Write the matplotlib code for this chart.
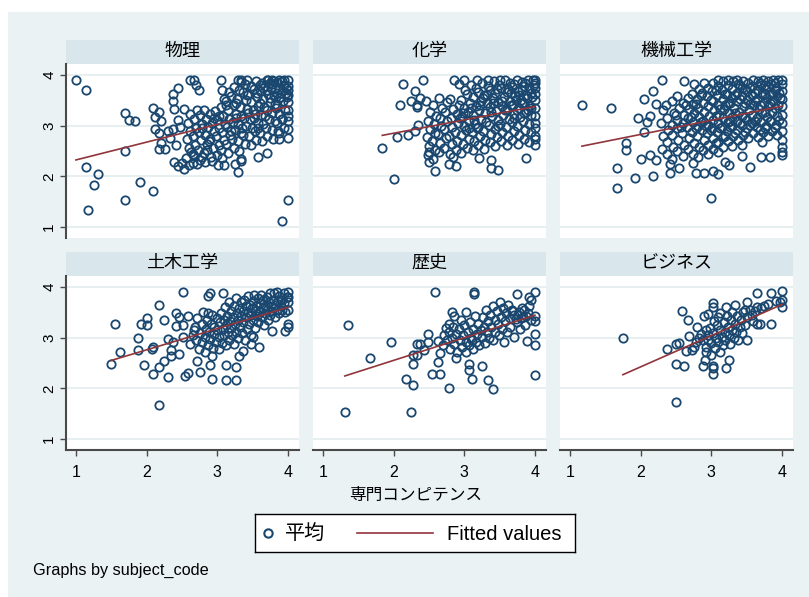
'''
    Scatter of grade average against competence, one panel per subject,
    with a linear fit in each panel
'''

import numpy as np
import matplotlib.pyplot as plt
from matplotlib.patches import Rectangle

plt.rcParams['font.family'] = ['Liberation Sans', 'Noto Sans CJK JP']

subjects = ['物理', '化学', '機械工学', '土木工学', '歴史', 'ビジネス']

# (competence, average) per student
buturi = [
    (1.00, 3.90), (1.14, 3.71), (1.14, 2.19), (1.17, 1.34), (1.26, 1.84), (1.31, 2.04),
    (1.70, 3.25), (1.70, 2.50), (1.70, 1.53), (1.75, 3.12), (1.83, 3.10), (1.91, 1.88),
    (2.09, 1.71), (2.09, 3.34), (2.12, 3.18), (2.21, 3.10), (2.18, 3.28), (2.12, 2.93),
    (2.17, 2.85), (2.18, 2.54), (2.21, 2.65), (2.26, 2.54), (2.37, 3.63), (2.37, 3.48),
    (2.44, 3.75), (2.39, 3.33), (2.37, 2.93), (2.39, 2.28), (2.44, 2.20), (2.53, 2.14),
    (2.53, 3.33), (2.50, 2.27), (2.61, 3.90), (2.67, 3.90), (2.70, 3.80), (2.74, 3.71),
    (2.66, 2.27), (2.67, 2.40), (3.01, 2.22), (3.09, 2.22), (3.05, 3.90), (3.29, 2.08),
    (3.25, 2.24), (3.33, 2.30), (3.34, 2.35), (3.57, 2.38), (3.70, 2.46), (3.29, 3.90),
    (3.33, 3.90), (3.42, 3.90), (3.72, 3.90), (3.78, 3.90), (3.88, 3.90), (3.95, 3.90),
    (4.00, 3.90), (3.92, 1.12), (4.00, 1.53), (3.87, 2.73), (3.87, 2.85), (4.00, 2.93),
    (4.00, 3.10), (4.00, 3.31), (4.00, 3.47), (4.00, 3.78), (3.92, 3.14), (2.30, 2.89),
    (2.33, 2.75), (2.42, 2.62), (2.45, 3.12), (2.47, 2.98),
    (2.56, 2.36), (2.60, 2.57), (2.57, 2.74), (2.61, 2.90), (2.58, 3.06), (2.62, 3.24),
    (2.66, 2.44), (2.69, 2.61), (2.65, 2.79), (2.70, 2.96), (2.67, 3.13), (2.71, 3.31),
    (2.75, 2.33), (2.73, 2.53), (2.77, 2.71), (2.74, 2.87), (2.78, 3.03), (2.76, 3.21),
    (2.83, 2.29), (2.81, 2.47), (2.86, 2.63), (2.82, 2.81), (2.87, 2.97), (2.84, 3.13),
    (2.81, 3.31), (2.91, 2.39), (2.94, 2.56), (2.90, 2.73), (2.95, 2.89), (2.92, 3.06),
    (2.89, 3.23), (2.99, 2.43), (3.02, 2.61), (2.98, 2.79), (3.03, 2.95), (3.00, 3.11),
    (2.97, 3.29), (3.07, 2.36), (3.05, 2.53), (3.10, 2.71), (3.06, 2.87), (3.11, 3.03),
    (3.08, 3.19), (3.05, 3.36), (3.09, 3.53), (3.07, 3.71), (3.15, 2.46), (3.13, 2.63),
    (3.18, 2.81), (3.14, 2.97), (3.17, 3.13), (3.15, 3.31), (3.13, 3.49), (3.16, 3.66),
    (3.23, 2.56), (3.21, 2.73), (3.25, 2.91), (3.22, 3.07), (3.26, 3.23), (3.24, 3.41),
    (3.20, 3.59), (3.23, 3.77), (3.31, 2.51), (3.29, 2.69), (3.33, 2.86), (3.30, 3.03),
    (3.34, 3.19), (3.32, 3.36), (3.28, 3.53), (3.31, 3.71), (3.33, 3.86), (3.39, 2.63),
    (3.37, 2.81), (3.41, 2.99), (3.38, 3.16), (3.42, 3.33), (3.40, 3.51), (3.36, 3.67),
    (3.39, 3.83), (3.47, 2.61), (3.45, 2.79), (3.49, 2.96), (3.46, 3.13), (3.50, 3.31),
    (3.48, 3.47), (3.44, 3.63), (3.47, 3.79), (3.55, 2.71), (3.53, 2.89), (3.57, 3.06),
    (3.54, 3.23), (3.58, 3.39), (3.56, 3.56), (3.52, 3.73), (3.55, 3.88), (3.63, 2.69),
    (3.61, 2.86), (3.65, 3.03), (3.62, 3.21), (3.66, 3.37), (3.64, 3.53), (3.60, 3.69),
    (3.63, 3.85), (3.71, 2.79), (3.69, 2.96), (3.73, 3.13), (3.70, 3.31), (3.74, 3.47),
    (3.72, 3.63), (3.68, 3.79), (3.71, 3.90), (3.79, 2.73), (3.77, 2.91), (3.81, 3.09),
    (3.78, 3.26), (3.82, 3.43), (3.80, 3.59), (3.76, 3.75), (3.79, 3.88), (3.86, 2.89),
    (3.84, 3.06), (3.88, 3.23), (3.85, 3.41), (3.89, 3.57), (3.87, 3.73), (3.85, 3.86),
    (3.94, 2.96), (3.92, 3.13), (3.96, 3.31), (3.93, 3.49), (3.97, 3.65), (3.95, 3.81),
    (4.00, 3.20), (4.00, 3.60), (4.00, 3.70), (4.00, 2.75),
    (2.79, 2.95), (2.95, 3.15), (3.12, 3.40), (3.27, 3.45), (3.44, 3.25), (3.60, 3.45),
    (3.75, 3.55), (3.90, 3.65), (3.35, 2.95), (3.19, 2.90), (3.52, 3.15), (3.67, 3.20),
    (3.02, 3.20), (2.88, 2.70), (3.83, 3.35), (3.58, 2.95), (3.42, 3.60), (3.26, 3.15),
    (2.60, 2.22), (2.72, 2.25), (2.63, 2.48), (2.79, 2.38), (2.93, 2.31), (2.86, 2.52),
    (3.65, 3.75), (3.78, 3.82), (3.92, 3.88), (3.84, 3.65), (3.70, 3.70), (3.97, 3.75),
    (3.60, 3.80), (3.88, 3.55), (3.74, 3.85), (3.56, 3.65), (3.82, 3.72), (3.98, 3.56),
]

kagaku = [
    (1.84, 2.57), (2.00, 1.94), (2.05, 2.78), (2.13, 3.82), (2.09, 3.41), (2.21, 2.82),
    (2.30, 3.69), (2.25, 3.49), (2.33, 3.41), (2.33, 3.37), (2.42, 3.90), (2.30, 2.89),
    (2.34, 3.01), (2.38, 3.54), (2.50, 2.28), (2.58, 2.10), (2.50, 2.48), (2.79, 2.25),
    (2.88, 2.20), (2.84, 2.38), (3.21, 2.36), (3.38, 2.32), (3.38, 2.17), (3.47, 2.12),
    (3.88, 2.36), (4.00, 2.61), (4.00, 2.73),
    (2.48, 2.42), (2.50, 2.60), (2.47, 2.78), (2.52, 2.94), (2.49, 3.10), (2.51, 3.28),
    (2.46, 3.48), (2.56, 2.35), (2.58, 2.53), (2.55, 2.70), (2.59, 2.86), (2.57, 3.03),
    (2.60, 3.20), (2.56, 3.40), (2.64, 2.48), (2.66, 2.66), (2.63, 2.83), (2.67, 2.99),
    (2.65, 3.16), (2.68, 3.35), (2.64, 3.54), (2.72, 2.56), (2.74, 2.76), (2.71, 2.93),
    (2.75, 3.10), (2.73, 3.28), (2.76, 3.46), (2.80, 2.45), (2.82, 2.63), (2.79, 2.80),
    (2.83, 2.98), (2.81, 3.16), (2.84, 3.33), (2.80, 3.53), (2.85, 3.90), (2.88, 2.53),
    (2.90, 2.70), (2.87, 2.88), (2.91, 3.06), (2.89, 3.23), (2.92, 3.40), (2.93, 3.82),
    (2.96, 2.47), (2.98, 2.64), (2.95, 2.81), (2.99, 2.99), (2.97, 3.17), (3.00, 3.34),
    (2.96, 3.51), (3.01, 3.70), (3.00, 3.90), (3.04, 2.57), (3.06, 2.74), (3.03, 2.91),
    (3.07, 3.09), (3.05, 3.27), (3.08, 3.44), (3.04, 3.62), (3.09, 3.80), (3.12, 2.52),
    (3.14, 2.69), (3.11, 2.87), (3.15, 3.04), (3.13, 3.21), (3.16, 3.39), (3.12, 3.57),
    (3.17, 3.75), (3.18, 3.90), (3.20, 2.62), (3.22, 2.79), (3.19, 2.97), (3.23, 3.14),
    (3.21, 3.31), (3.24, 3.49), (3.20, 3.67), (3.25, 3.85), (3.28, 2.55), (3.30, 2.72),
    (3.27, 2.90), (3.31, 3.07), (3.29, 3.25), (3.32, 3.44), (3.28, 3.61), (3.33, 3.79),
    (3.34, 3.90), (3.36, 2.67), (3.38, 2.84), (3.35, 3.01), (3.39, 3.19), (3.37, 3.37),
    (3.40, 3.54), (3.36, 3.71), (3.42, 3.88), (3.44, 2.60), (3.46, 2.77), (3.43, 2.94),
    (3.47, 3.11), (3.45, 3.29), (3.48, 3.47), (3.44, 3.64), (3.49, 3.81), (3.50, 3.90),
    (3.52, 2.69), (3.54, 2.87), (3.51, 3.04), (3.55, 3.21), (3.53, 3.39), (3.56, 3.57),
    (3.52, 3.74), (3.58, 3.90), (3.60, 2.62), (3.62, 2.79), (3.59, 2.97), (3.63, 3.14),
    (3.61, 3.31), (3.64, 3.49), (3.60, 3.67), (3.65, 3.84), (3.68, 2.71), (3.70, 2.89),
    (3.67, 3.07), (3.71, 3.24), (3.69, 3.41), (3.72, 3.59), (3.68, 3.77), (3.74, 3.90),
    (3.76, 2.64), (3.78, 2.81), (3.75, 2.99), (3.79, 3.17), (3.77, 3.34), (3.80, 3.51),
    (3.76, 3.69), (3.81, 3.87), (3.84, 2.74), (3.86, 2.91), (3.83, 3.09), (3.87, 3.27),
    (3.85, 3.44), (3.88, 3.61), (3.84, 3.79), (3.90, 3.90), (3.92, 2.67), (3.94, 2.87),
    (3.91, 3.04), (3.95, 3.21), (3.93, 3.39), (3.96, 3.57), (3.92, 3.74), (3.97, 3.90),
    (4.00, 2.80), (4.00, 2.95), (4.00, 3.05), (4.00, 3.20), (4.00, 3.35), (4.00, 3.50),
    (4.00, 3.62), (4.00, 3.75), (4.00, 3.85), (4.00, 3.90),
    (3.58, 3.30), (3.73, 3.50), (3.89, 3.55), (3.82, 3.70), (3.66, 3.65), (3.26, 3.55),
    (3.10, 3.35), (3.41, 3.45), (2.94, 3.15), (3.18, 2.95), (3.48, 3.00), (3.70, 3.15),
    (3.95, 3.35), (3.85, 3.25), (3.62, 3.72), (3.70, 3.82), (3.78, 3.60), (3.86, 3.85),
    (3.94, 3.65), (3.98, 3.80), (3.66, 3.40), (3.74, 3.30), (3.82, 3.45), (3.90, 3.30),
    (3.54, 3.48), (3.46, 3.72), (3.32, 3.60), (3.14, 3.12), (3.22, 3.40), (3.38, 3.28),
    (3.06, 2.95), (2.98, 3.25),
]

kikai = [
    (1.17, 3.41), (1.58, 3.34), (1.67, 2.16), (1.67, 1.78), (1.79, 2.66), (1.79, 2.53),
    (1.92, 1.96), (2.00, 2.35), (1.96, 3.15), (2.05, 3.53), (2.05, 2.88), (2.09, 3.07),
    (2.13, 3.20), (2.17, 2.01), (2.17, 3.69), (2.22, 3.43), (2.22, 2.32), (2.13, 2.42),
    (2.30, 3.90), (2.42, 2.07), (2.42, 2.24), (2.55, 2.16), (2.74, 2.26), (2.78, 2.07),
    (2.89, 2.07), (3.00, 1.57), (3.03, 2.10), (3.09, 2.04), (3.20, 2.28), (3.25, 2.22),
    (3.55, 2.19), (3.43, 2.40), (3.71, 2.38), (3.83, 2.38), (4.00, 2.42),
    (2.30, 2.55), (2.31, 2.80), (2.29, 3.05), (2.32, 3.30), (2.38, 2.45), (2.37, 2.68),
    (2.39, 2.92), (2.38, 3.15), (2.36, 3.40), (2.45, 2.35), (2.46, 2.58), (2.44, 2.82),
    (2.45, 3.02), (2.47, 3.25), (2.45, 3.48), (2.52, 2.50), (2.53, 2.72), (2.51, 2.95),
    (2.52, 3.12), (2.54, 3.35), (2.52, 3.58), (2.60, 2.40), (2.61, 2.62), (2.59, 2.85),
    (2.60, 3.05), (2.62, 3.22), (2.60, 3.45), (2.61, 3.88), (2.67, 2.55), (2.68, 2.75),
    (2.66, 2.98), (2.67, 3.15), (2.69, 3.32), (2.67, 3.55), (2.74, 2.45), (2.75, 2.65),
    (2.73, 2.88), (2.74, 3.08), (2.76, 3.25), (2.74, 3.42), (2.73, 3.62), (2.75, 3.82),
    (2.81, 2.38), (2.82, 2.58), (2.80, 2.80), (2.81, 3.00), (2.83, 3.18), (2.81, 3.35),
    (2.80, 3.52), (2.82, 3.72), (2.88, 2.52), (2.89, 2.72), (2.87, 2.92), (2.88, 3.10),
    (2.90, 3.28), (2.88, 3.45), (2.87, 3.65), (2.89, 3.85), (2.95, 2.45), (2.96, 2.62),
    (2.94, 2.85), (2.95, 3.02), (2.97, 3.20), (2.95, 3.38), (2.94, 3.58), (2.96, 3.75),
    (3.02, 2.55), (3.03, 2.75), (3.01, 2.95), (3.02, 3.12), (3.04, 3.30), (3.02, 3.48),
    (3.01, 3.68), (3.03, 3.85), (3.09, 2.48), (3.10, 2.68), (3.08, 2.88), (3.09, 3.05),
    (3.11, 3.22), (3.09, 3.40), (3.08, 3.60), (3.10, 3.78), (3.09, 3.90), (3.16, 2.58),
    (3.17, 2.78), (3.15, 2.98), (3.16, 3.15), (3.18, 3.32), (3.16, 3.52), (3.15, 3.70),
    (3.17, 3.88), (3.23, 2.70), (3.22, 2.90), (3.23, 3.08), (3.25, 3.25), (3.23, 3.45),
    (3.22, 3.62), (3.24, 3.80), (3.23, 3.90), (3.30, 2.60), (3.31, 2.80), (3.29, 3.00),
    (3.30, 3.18), (3.32, 3.35), (3.30, 3.55), (3.29, 3.72), (3.31, 3.88), (3.38, 2.72),
    (3.36, 2.92), (3.37, 3.10), (3.39, 3.28), (3.37, 3.48), (3.36, 3.65), (3.38, 3.82),
    (3.37, 3.90), (3.44, 2.62), (3.45, 2.82), (3.43, 3.02), (3.44, 3.20), (3.46, 3.38),
    (3.44, 3.58), (3.43, 3.75), (3.45, 3.88), (3.52, 2.75), (3.50, 2.95), (3.51, 3.12),
    (3.53, 3.30), (3.51, 3.50), (3.50, 3.68), (3.52, 3.85), (3.59, 2.85), (3.57, 3.05),
    (3.58, 3.22), (3.60, 3.40), (3.58, 3.60), (3.57, 3.78), (3.59, 3.90), (3.66, 2.78),
    (3.64, 2.98), (3.65, 3.15), (3.67, 3.32), (3.65, 3.52), (3.64, 3.70), (3.66, 3.88),
    (3.72, 2.68), (3.73, 2.88), (3.71, 3.08), (3.72, 3.25), (3.74, 3.45), (3.72, 3.62),
    (3.71, 3.80), (3.73, 3.90), (3.80, 2.80), (3.78, 3.00), (3.79, 3.18), (3.81, 3.38),
    (3.79, 3.55), (3.78, 3.72), (3.80, 3.88), (3.86, 2.90), (3.85, 3.10), (3.86, 3.28),
    (3.88, 3.48), (3.86, 3.65), (3.85, 3.82), (3.87, 3.90), (3.93, 2.82), (3.92, 3.02),
    (3.93, 3.20), (3.95, 3.40), (3.93, 3.58), (3.92, 3.75), (3.94, 3.90), (4.00, 2.48),
    (4.00, 2.58), (4.00, 2.72), (4.00, 2.90), (4.00, 3.05), (4.00, 3.22), (4.00, 3.38),
    (4.00, 3.52), (4.00, 3.68), (4.00, 3.82), (4.00, 3.90),
    (3.62, 3.48), (3.76, 3.62), (3.90, 3.70), (3.48, 3.45), (3.34, 3.60), (3.20, 3.40),
    (3.06, 3.20), (2.92, 3.00), (3.55, 3.75), (3.83, 3.45), (3.69, 3.85), (3.41, 3.80),
    (3.97, 3.55), (3.27, 3.10), (2.78, 2.95),
    (2.71, 3.18), (2.78, 3.42), (2.85, 3.08), (2.85, 3.60), (2.99, 2.92), (2.99, 3.50),
    (3.06, 2.65), (3.06, 3.70), (3.13, 3.32), (3.13, 2.95), (3.20, 3.62), (3.20, 2.80),
    (3.27, 3.45), (3.27, 2.98), (3.34, 3.25), (3.34, 2.85), (3.41, 3.52), (3.41, 3.05),
    (3.48, 3.72), (3.48, 3.18), (3.48, 2.88), (3.55, 3.42), (3.55, 3.02), (3.62, 3.65),
    (3.62, 3.10), (3.69, 3.40), (3.69, 2.92), (3.76, 3.80), (3.76, 3.28), (3.76, 2.95),
    (3.83, 3.62), (3.83, 3.10), (3.90, 3.85), (3.90, 3.35), (3.90, 2.95), (3.96, 3.65),
    (3.96, 3.12), (2.64, 3.40), (2.57, 2.98), (2.50, 3.22),
]

doboku = [
    (1.50, 2.49), (1.55, 3.28), (1.63, 2.72), (1.88, 2.99), (1.88, 2.76), (1.92, 3.28),
    (1.96, 2.47), (2.00, 3.39), (2.00, 3.25), (2.09, 2.82), (2.09, 2.28), (2.07, 2.78),
    (2.17, 3.64), (2.17, 2.43), (2.17, 1.68), (2.25, 3.34), (2.25, 2.55), (2.30, 2.98),
    (2.30, 2.22), (2.34, 2.76), (2.34, 2.63), (2.38, 2.92), (2.42, 3.23), (2.42, 3.49),
    (2.46, 3.40), (2.46, 2.67), (2.51, 3.02), (2.51, 3.91), (2.51, 3.26), (2.55, 2.25),
    (2.59, 2.30), (2.59, 3.43), (2.67, 3.15), (2.71, 2.55), (2.75, 2.33), (2.87, 3.82),
    (2.89, 3.89), (2.87, 3.49), (2.89, 2.47), (2.92, 2.18), (2.92, 2.64), (3.08, 3.89),
    (3.13, 2.17), (3.26, 2.17), (3.13, 2.47), (3.26, 2.43), (3.31, 2.64), (3.36, 2.74),
    (3.59, 2.81), (3.47, 2.87), (3.51, 3.01), (3.96, 3.13), (4.00, 3.21), (4.00, 3.28),
    (3.77, 3.14),
    (2.62, 2.88), (2.65, 3.05), (2.68, 3.22), (2.70, 2.95), (2.72, 3.38), (2.74, 2.78),
    (2.76, 3.10), (2.78, 3.28), (2.79, 2.92), (2.80, 3.50), (2.82, 2.72), (2.83, 3.02),
    (2.84, 3.18), (2.86, 3.35), (2.87, 2.85), (2.88, 3.12), (2.90, 2.98), (2.91, 3.28),
    (2.92, 3.45), (2.94, 2.80), (2.95, 3.08), (2.96, 3.22), (2.98, 2.92), (2.99, 3.38),
    (3.00, 3.15), (3.02, 2.78), (3.03, 3.02), (3.04, 3.30), (3.05, 3.48), (3.06, 2.90),
    (3.08, 3.18), (3.09, 3.35), (3.10, 3.05), (3.11, 3.60), (3.12, 2.85), (3.13, 3.25),
    (3.14, 3.42), (3.15, 3.12), (3.16, 3.70), (3.17, 2.95), (3.18, 3.32), (3.19, 3.52),
    (3.20, 3.20), (3.21, 3.05), (3.22, 3.40), (3.23, 3.62), (3.24, 2.88), (3.25, 3.28),
    (3.26, 3.78), (3.27, 3.12), (3.28, 3.48), (3.29, 3.35), (3.30, 3.00), (3.31, 3.58),
    (3.32, 3.22), (3.33, 3.70), (3.34, 3.42), (3.35, 3.10), (3.36, 3.52), (3.37, 3.30),
    (3.38, 3.75), (3.39, 2.95), (3.40, 3.62), (3.41, 3.40), (3.42, 3.18), (3.43, 3.50),
    (3.44, 3.82), (3.45, 3.28), (3.46, 3.65), (3.47, 3.05), (3.48, 3.45), (3.49, 3.58),
    (3.50, 3.72), (3.51, 3.35), (3.52, 3.85), (3.53, 3.20), (3.54, 3.52), (3.55, 3.62),
    (3.56, 3.42), (3.57, 3.78), (3.58, 3.30), (3.60, 3.68), (3.61, 3.50), (3.62, 3.85),
    (3.63, 3.40), (3.64, 3.58), (3.65, 3.75), (3.66, 3.25), (3.67, 3.62), (3.68, 3.48),
    (3.70, 3.80), (3.71, 3.55), (3.72, 3.35), (3.73, 3.70), (3.74, 3.88), (3.75, 3.45),
    (3.76, 3.62), (3.78, 3.52), (3.79, 3.75), (3.80, 3.88), (3.81, 3.40), (3.82, 3.65),
    (3.84, 3.55), (3.85, 3.90), (3.86, 3.72), (3.87, 3.48), (3.88, 3.82), (3.90, 3.62),
    (3.91, 3.55), (3.92, 3.75), (3.94, 3.88), (3.95, 3.68), (3.96, 3.50), (3.98, 3.80),
    (4.00, 3.55), (4.00, 3.70), (4.00, 3.80), (4.00, 3.90),
]

rekisi = [
    (1.31, 1.53), (1.36, 3.25), (1.67, 2.60), (1.97, 2.91), (2.18, 2.19), (2.28, 2.06),
    (2.24, 1.53), (2.28, 2.49), (2.28, 2.65), (2.33, 2.88), (2.37, 2.88), (2.33, 2.65),
    (2.43, 2.76), (2.49, 3.07), (2.49, 2.91), (2.55, 2.29), (2.58, 3.91), (2.63, 2.52),
    (2.63, 2.94), (2.65, 2.29), (2.65, 2.69), (2.79, 2.00), (2.79, 3.27), (2.82, 3.50),
    (2.88, 2.60), (2.86, 3.43), (3.03, 3.50), (3.07, 2.49), (3.07, 2.37), (3.11, 2.19),
    (3.11, 2.95), (3.14, 3.87), (3.14, 3.90), (3.25, 2.44), (3.33, 2.16), (3.40, 1.99),
    (3.74, 3.87), (4.00, 3.91), (4.00, 2.26), (4.00, 2.86), (4.00, 3.07), (4.00, 3.43),
    (4.00, 3.32), (3.89, 2.93), (3.91, 3.80),
    (2.70, 2.85), (2.72, 3.05), (2.74, 3.20), (2.76, 2.95), (2.78, 3.12), (2.80, 2.78),
    (2.82, 3.00), (2.84, 3.22), (2.86, 2.88), (2.88, 3.08), (2.90, 2.72), (2.92, 3.18),
    (2.94, 2.95), (2.95, 3.35), (2.97, 2.82), (2.98, 3.05), (3.00, 3.25), (3.02, 2.92),
    (3.03, 2.72), (3.05, 3.12), (3.07, 2.85), (3.08, 3.30), (3.10, 3.00), (3.12, 2.78),
    (3.13, 3.18), (3.15, 3.42), (3.16, 2.92), (3.18, 3.08), (3.20, 3.28), (3.21, 2.85),
    (3.23, 3.15), (3.25, 3.02), (3.26, 3.40), (3.28, 3.22), (3.30, 2.90), (3.31, 3.55),
    (3.32, 3.12), (3.34, 3.32), (3.35, 3.00), (3.37, 3.45), (3.38, 3.22), (3.40, 3.62),
    (3.41, 2.95), (3.43, 3.35), (3.44, 3.12), (3.46, 3.52), (3.47, 3.28), (3.49, 3.05),
    (3.50, 3.70), (3.52, 3.40), (3.53, 3.18), (3.55, 3.58), (3.56, 2.92), (3.58, 3.32),
    (3.59, 3.48), (3.61, 3.12), (3.62, 3.65), (3.64, 3.38), (3.65, 3.22), (3.67, 3.55),
    (3.68, 3.52), (3.70, 3.02), (3.71, 3.45), (3.73, 3.36), (3.74, 3.30), (3.76, 3.45),
    (3.77, 3.50), (3.79, 3.18), (3.80, 3.38), (3.82, 3.58), (3.83, 3.40), (3.85, 3.55),
    (3.86, 3.25), (3.88, 3.42), (3.90, 3.48), (3.92, 3.62), (3.94, 3.35), (3.95, 3.75),
]

business = [
    (1.75, 3.00), (2.50, 1.74), (2.38, 2.78), (2.50, 2.87), (2.50, 2.49), (2.55, 2.89),
    (2.62, 2.45), (2.59, 3.53), (2.67, 3.35), (2.64, 2.74), (2.68, 3.03), (2.73, 2.76),
    (2.76, 2.81), (2.80, 3.22), (2.88, 2.45), (2.91, 2.56), (2.92, 2.71), (2.93, 2.82),
    (2.95, 2.95), (2.89, 3.42), (2.95, 3.46), (3.00, 2.65), (3.03, 2.44), (3.03, 2.40),
    (3.03, 2.28), (3.03, 3.68), (3.03, 3.61), (3.12, 2.71), (3.21, 2.41), (3.25, 2.57),
    (3.21, 3.61), (3.34, 3.64), (3.51, 2.96), (3.64, 3.89), (3.84, 3.89), (4.00, 3.93),
    (4.00, 3.61), (4.00, 3.75), (3.97, 3.70), (3.92, 3.72), (3.69, 3.28), (3.65, 3.28),
    (3.59, 3.33), (3.47, 3.55), (3.51, 3.71), (3.64, 3.61), (3.80, 3.67), (3.84, 3.28),
    (2.95, 3.05), (2.98, 3.20), (3.00, 2.90), (3.02, 3.10), (3.04, 3.32), (3.05, 2.80),
    (3.06, 3.00), (3.08, 3.25), (3.09, 3.40), (3.10, 2.92), (3.12, 3.15), (3.13, 3.48),
    (3.15, 3.02), (3.16, 2.85), (3.18, 3.30), (3.19, 3.12), (3.20, 2.95), (3.22, 3.42),
    (3.23, 3.22), (3.25, 3.05), (3.26, 2.88), (3.28, 3.35), (3.29, 3.15), (3.30, 3.50),
    (3.32, 3.00), (3.33, 3.28), (3.35, 3.12), (3.36, 3.42), (3.38, 2.95), (3.40, 3.22),
    (3.42, 3.35), (3.44, 3.10), (3.45, 3.50), (3.48, 3.25), (3.50, 3.40), (3.55, 3.55),
    (3.58, 3.45), (3.62, 3.52), (3.70, 3.58), (3.75, 3.62), (2.85, 3.08), (2.88, 2.95),
    (2.92, 3.15), (2.82, 3.00), (2.78, 2.92),
]

panels = [buturi, kagaku, kikai, doboku, rekisi, business]

NAVY = '#1A476F'
MAROON = '#90353B'
BG = '#EAF2F3'
STRIP = '#D9E6EB'
GRID = '#E4ECEF'
AXIS = '#4A4A4A'

W, H = 809, 597

def frac(x, y, w, h):
    # pixel box (top-left origin) -> figure fraction
    return [x / W, 1 - (y + h) / H, w / W, h / H]


fig = plt.figure(figsize=(W / 100, H / 100), dpi=100, facecolor='white')
fig.patches.append(Rectangle((8 / W, 0), 1, 1 - 12 / H, transform=fig.transFigure,
                             facecolor=BG, edgecolor='none', zorder=-10))

col_left = [66, 313, 560]
row_top = [64, 276]
pw, ph, strip_h = 233, 174, 24

for i, (name, pts) in enumerate(zip(subjects, panels)):
    r, c = divmod(i, 3)
    x0, y0 = col_left[c], row_top[r]

    # header strip with subject name
    sx, sy, sw, sh = frac(x0, y0 - strip_h, pw, strip_h)
    fig.patches.append(Rectangle((sx, sy), sw, sh, transform=fig.transFigure,
                                 facecolor=STRIP, edgecolor='none', zorder=-5))
    fig.text((x0 + pw / 2) / W, 1 - (y0 - strip_h / 2 - 1) / H, name,
             ha='center', va='center', fontsize=13,
             family=['Noto Sans CJK JP'])

    ax = fig.add_axes(frac(x0, y0, pw, ph))
    ax.set_facecolor('white')
    ax.set_xlim(0.86, 4.156)
    ax.set_ylim(0.785, 4.217)
    ax.set_yticks([1, 2, 3, 4])
    ax.set_xticks([1, 2, 3, 4])
    ax.grid(axis='y', color=GRID, lw=1.2)
    ax.set_axisbelow(True)
    for s in ax.spines.values():
        s.set_visible(False)

    if c == 0:
        ax.spines['left'].set_visible(True)
        ax.spines['left'].set_color(AXIS)
        ax.spines['left'].set_linewidth(1.5)
        ax.tick_params(axis='y', length=4, width=1, color=AXIS, pad=3,
                       labelsize=11, labelrotation=90)
        for t in ax.get_yticklabels():
            t.set_va('center')
    else:
        ax.tick_params(axis='y', left=False, labelleft=False)

    if r == 1:
        ax.spines['bottom'].set_visible(True)
        ax.spines['bottom'].set_color(AXIS)
        ax.spines['bottom'].set_linewidth(1.5)
        ax.tick_params(axis='x', length=4, width=1, color=AXIS, pad=7,
                       labelsize=11.5)
    else:
        ax.tick_params(axis='x', bottom=False, labelbottom=False)

    x = np.array([p[0] for p in pts])
    y = np.array([p[1] for p in pts])
    ax.plot(x, y, 'o', mfc='none', mec=NAVY, ms=6.0, mew=1.3, zorder=3)

    slope, icpt = np.polyfit(x, y, 1)
    xs = np.array([x.min(), x.max()])
    ax.plot(xs, icpt + slope * xs, color=MAROON, lw=1.2, zorder=4)

fig.text(416 / W, 1 - 495 / H, '専門コンピテンス', ha='center', va='center',
         fontsize=12, family=['Noto Sans CJK JP'])

# legend box
lax = fig.add_axes(frac(255, 514, 320, 38))
lax.set_xlim(0, 320)
lax.set_ylim(0, 38)
lax.set_xticks([])
lax.set_yticks([])
lax.set_facecolor('white')
for s in lax.spines.values():
    s.set_color('black')
    s.set_linewidth(1)
lax.plot([13], [19], 'o', mfc='none', mec=NAVY, ms=6.0, mew=1.5)
lax.text(30, 19, '平均', ha='left', va='center', fontsize=14.5,
         family=['Noto Sans CJK JP'])
lax.plot([102, 178], [19, 19], color=MAROON, lw=1.2)
lax.text(192, 18, 'Fitted values', ha='left', va='center', fontsize=14.5)

fig.text(33 / W, 1 - 570 / H, 'Graphs by subject_code', ha='left', va='center',
         fontsize=11.7)

fig.savefig('out.png', dpi=100, facecolor=fig.get_facecolor())
